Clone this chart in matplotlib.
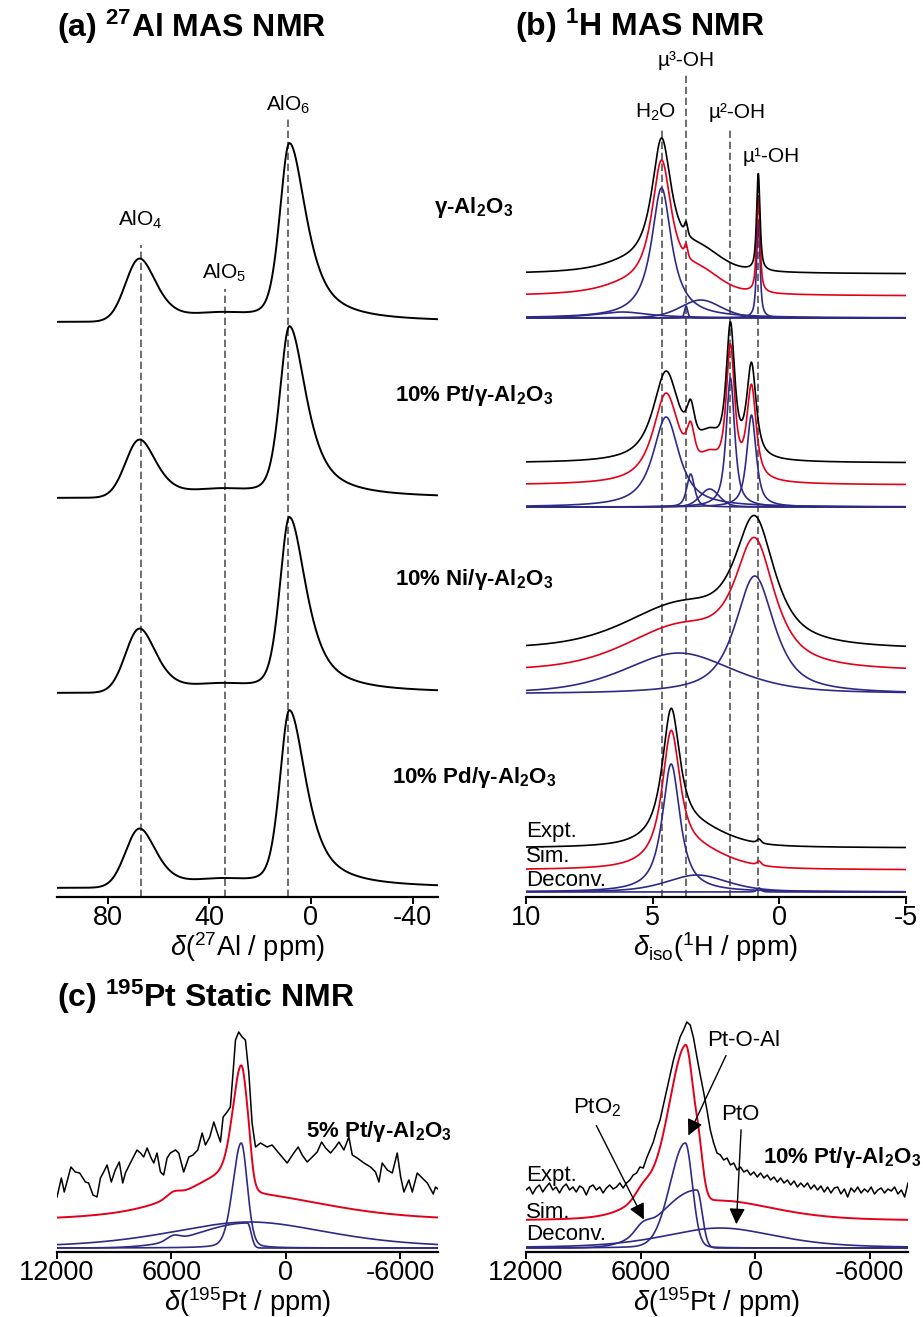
# 27Al / 1H / 195Pt NMR figure
import numpy as np
import matplotlib.pyplot as plt

plt.rcParams['font.family'] = ['Liberation Sans', 'DejaVu Sans']
plt.rcParams['mathtext.fontset'] = 'custom'
plt.rcParams['mathtext.rm'] = 'Liberation Sans'
plt.rcParams['mathtext.it'] = 'Liberation Sans:italic'
plt.rcParams['mathtext.bf'] = 'Liberation Sans:bold'
plt.rcParams['axes.unicode_minus'] = False

# ---------------- data ----------------
# (a) 27Al MAS: peak heights of each sample (arb. units)
al_alo4_height = [63, 58, 64, 59]
al_alo5_height = [6, 6, 6, 6]
al_alo6_height = [178, 171, 175, 177]
# centre, w_high_ppm_side, w_low_ppm_side, eta_high, eta_low
al_alo4_shape = [67.5, 6.5, 8.0, 0.0, 0.6]
al_alo5_shape = [35.0, 12.0, 12.0, 0.0, 0.0]
al_alo6_shape = [8.5, 4.5, 8.0, 0.4, 0.8]
al_sites = ['AlO$_4$', 'AlO$_5$', 'AlO$_6$']
al_site_ppm = [67, 34, 9]

# (b) 1H MAS deconvolution components: centre, height, hwhm, lorentz fraction
h_gam_c = [6.2, 4.65, 3.68, 3.1, 0.83]
h_gam_h = [6, 130, 12, 18, 97]
h_gam_w = [1.3, 0.48, 0.07, 0.95, 0.08]
h_gam_eta = [1.0, 1.0, 0.5, 0.3, 0.7]

h_pt_c = [4.47, 3.5, 2.75, 1.93, 1.1]
h_pt_h = [90, 33, 18, 129, 92]
h_pt_w = [0.62, 0.18, 0.45, 0.2, 0.22]
h_pt_eta = [0.9, 0.6, 0.3, 0.8, 0.8]

h_ni_c = [3.97, 0.97]
h_ni_h = [41, 118]
h_ni_w = [2.55, 0.92]
h_ni_eta = [0.5, 0.8]

h_pd_c = [4.27, 3.25, 0.8]
h_pd_h = [128, 17, 4]
h_pd_w = [0.42, 1.44, 0.1]
h_pd_eta = [0.9, 0.5, 0.5]

h_sites = ['H$_2$O', 'µ³-OH', 'µ²-OH', 'µ¹-OH']
h_site_ppm = [4.65, 3.68, 1.93, 0.83]

# (c) 195Pt static, components: centre, height, w_high, w_low, eta, curve index
pt5_c = [2330, 2000, 5900, 1900]
pt5_h = [105, 25, 5, 26]
pt5_whi = [520, 3000, 400, 5000]
pt5_wlo = [380, 220, 400, 5000]
pt5_eta = [0.2, 0.0, 0.0, 0.5]
pt5_curve = [0, 1, 1, 2]

pt10_c = [3660, 3050, 5900, 1830]
pt10_h = [105, 58, 8, 20]
pt10_whi = [950, 2200, 450, 3500]
pt10_wlo = [440, 320, 450, 3500]
pt10_eta = [0.1, 0.0, 0.0, 0.5]
pt10_curve = [0, 1, 1, 2]

pt5_expt_ppm = [12000, 11770, 11620, 11270, 11040, 10810, 10510, 10340, 10110, 9900,
                9720, 9550, 9370, 9150, 8940, 8730, 8550, 8410, 8150, 7800,
                7620, 7450, 7270, 7060, 6920, 6750, 6570, 6400, 6220, 6050,
                5780, 5610, 5350, 5080, 4860, 4610, 4380, 4210, 3980, 3770,
                3600, 3420, 3280, 3070, 2900, 2760, 2630, 2460, 2280, 2110,
                1930, 1760, 1580, 1320, 970, 710, 360, -80, -430, -660,
                -870, -1130, -1400, -1660, -1890, -2100, -2360, -2620, -2800, -3060,
                -3320, -3500, -3760, -4110, -4460, -4720, -4900, -5070, -5340, -5600,
                -5860, -6040, -6210, -6470, -6650, -6910, -7170, -7440, -7750, -7870,
                -8000]
pt5_expt_int = [0, 19, 5, 30, 25, 24, 15, 14, 2, 0,
                19, 25, 32, 15, 27, 35, 14, 24, 34, 47,
                44, 40, 49, 39, 34, 44, 25, 22, 39, 44,
                47, 44, 25, 40, 42, 47, 64, 52, 60, 75,
                65, 55, 80, 85, 90, 124, 157, 165, 160, 157,
                124, 74, 50, 54, 50, 52, 44, 34, 44, 50,
                42, 35, 40, 45, 55, 49, 44, 50, 55, 47,
                60, 42, 39, 34, 30, 25, 15, 34, 27, 24,
                44, 20, 5, 17, 5, 24, 19, 14, 3, 10,
                8]

pt10_expt_int = [0, 3, -4, 2, 5, -2, 3, 7, 0, 3,
                 -3, 3, 6, 0, 3, -2, 4, 2, -5, 3,
                 5, 0, 3, -3, 2, 5, 1, 3, 7, 2,
                 7, 10, 15, 17, 23, 22, 32, 40, 48, 60,
                 70, 85, 100, 115, 130, 142, 153, 160, 168, 165,
                 152, 133, 115, 98, 80, 60, 47, 37, 35, 30,
                 32, 25, 27, 20, 23, 18, 20, 15, 18, 13,
                 17, 12, 15, 10, 13, 8, 12, 7, 10, 5,
                 9, 3, 7, 3, 7, 1, 5, 0, 4, -2,
                 3, -3, 2, 3, -4, 1, -7, 2, -2, 3,
                 -3, 1, -2, 3, -4, 0, 2, -3, 1, -1,
                 3, -4, 0, -7, 7]

al_ticks = [80, 40, 0, -40]
h_ticks = [10, 5, 0, -5]
pt_ticks = [12000, 6000, 0, -6000]

# ---------------- helpers ----------------
def peak(x, c, h, w_hi, w_lo, eta_hi, eta_lo):
    d = x - c
    w = np.where(d > 0, w_hi, w_lo)
    eta = np.where(d > 0, eta_hi, eta_lo)
    u = (d / w) ** 2
    return h * (eta / (1 + u) + (1 - eta) * np.exp(-np.log(2) * u))


W, H = 923, 1317
fig = plt.figure(figsize=(W / 100, H / 100), dpi=100)


def px_axes(x0, y0, x1, y1):
    return fig.add_axes([x0 / W, 1 - y1 / H, (x1 - x0) / W, (y1 - y0) / H])


def style(ax, ticks):
    for s in ['left', 'right', 'top']:
        ax.spines[s].set_visible(False)
    ax.spines['bottom'].set_linewidth(1.6)
    ax.set_yticks([])
    ax.set_xticks(ticks)
    ax.set_xticklabels([str(t) for t in ticks])
    ax.tick_params(axis='x', direction='out', length=5, width=1.4,
                   labelsize=19.5, pad=1)
    ax.patch.set_alpha(0)


RED = '#e2001a'
BLUE = '#2e2a86'
GREY = '#555555'
dash = dict(color=GREY, lw=1.2, dashes=(4.4, 2.2))
LAB = 19.5

# ---------------- (a) 27Al ----------------
ax_a = px_axes(57, 60, 438, 897)
ax_a.set_xlim(100, -50)
ax_a.set_ylim(0, 837)
style(ax_a, al_ticks)
x_al = np.linspace(100, -50, 1500)
al_offsets = [575, 399, 204, 9]
for i, off in enumerate(al_offsets):
    y = (peak(x_al, al_alo4_shape[0], al_alo4_height[i], *al_alo4_shape[1:])
         + peak(x_al, al_alo5_shape[0], al_alo5_height[i], *al_alo5_shape[1:])
         + peak(x_al, al_alo6_shape[0], al_alo6_height[i], *al_alo6_shape[1:]))
    ax_a.plot(x_al, y + off, color='black', lw=1.4, zorder=3)
al_line_top = [652, 608, 780]
al_label_y = [677, 624, 792]
for ppm, lab, top, ly in zip(al_site_ppm, al_sites, al_line_top, al_label_y):
    ax_a.plot([ppm, ppm], [0, top], zorder=1, **dash)
    ax_a.text(ppm, ly, lab, ha='center', va='center', fontsize=15)
ax_a.set_xlabel(r'$\delta$($^{27}$Al / ppm)', fontsize=LAB, labelpad=-1)

# ---------------- (b) 1H ----------------
ax_b = px_axes(526, 60, 906, 897)
ax_b.set_xlim(10, -5)
ax_b.set_ylim(0, 837)
style(ax_b, h_ticks)
x_h = np.linspace(10, -5, 4000)
h_samples = [(h_gam_c, h_gam_h, h_gam_w, h_gam_eta, 579),
             (h_pt_c, h_pt_h, h_pt_w, h_pt_eta, 390),
             (h_ni_c, h_ni_h, h_ni_w, h_ni_eta, 203),
             (h_pd_c, h_pd_h, h_pd_w, h_pd_eta, 5)]
for cs, hs, ws, etas, off in h_samples:
    comps = [peak(x_h, c, h, w, w, e, e) for c, h, w, e in zip(cs, hs, ws, etas)]
    sim = np.sum(comps, axis=0)
    for comp in comps:
        ax_b.plot(x_h, comp + off, color=BLUE, lw=1.2, zorder=3)
    ax_b.plot(x_h, sim + off + 22, color=RED, lw=1.2, zorder=3)
    ax_b.plot(x_h, sim + off + 44, color='black', lw=1.2, zorder=3)
h_line_top = [770, 825, 770, 725]
h_label_y = [785, 836, 785, 741]
h_label_dx = [0.25, 0.0, -0.25, -0.5]
for ppm, lab, top, ly, dx in zip(h_site_ppm, h_sites, h_line_top, h_label_y, h_label_dx):
    ax_b.plot([ppm, ppm], [0, top], zorder=1, **dash)
    ax_b.text(ppm + dx, ly, lab, ha='center', va='center', fontsize=15)
for lab, ly in zip(['Expt.', 'Sim.', 'Deconv.'], [65, 41, 17]):
    ax_b.text(10, ly, lab, ha='left', va='center', fontsize=16, zorder=5)
ax_b.set_xlabel(r'$\delta_{\rm iso}$($^1$H / ppm)', fontsize=LAB, labelpad=-1)

# sample names between (a) and (b)
for lab, yp in zip([r'γ-Al$_\mathbf{2}$O$_\mathbf{3}$',
                    r'10% Pt/γ-Al$_\mathbf{2}$O$_\mathbf{3}$',
                    r'10% Ni/γ-Al$_\mathbf{2}$O$_\mathbf{3}$',
                    r'10% Pd/γ-Al$_\mathbf{2}$O$_\mathbf{3}$'],
                   [207, 395, 580, 777]):
    fig.text(474 / W, 1 - yp / H, lab, ha='center', va='center',
             fontsize=16, fontweight='bold')

# ---------------- (c) 195Pt ----------------
x_pt = np.linspace(12000, -8000, 2500)


def pt_panel(ax, cs, hs, whis, wlos, etas, curves, expt_x, expt_y, expt_off):
    comps = [peak(x_pt, c, h, a, b, e, e)
             for c, h, a, b, e in zip(cs, hs, whis, wlos, etas)]
    sim = np.sum(comps, axis=0)
    for k in sorted(set(curves)):
        curve = np.sum([comps[j] for j in range(len(comps)) if curves[j] == k], axis=0)
        ax.plot(x_pt, curve + 4, color=BLUE, lw=1.2, zorder=3)
    ax.plot(x_pt, sim + 31, color=RED, lw=1.4, zorder=3)
    ax.plot(expt_x, np.array(expt_y) + expt_off, color='black', lw=1.1, zorder=3)


ax_c1 = px_axes(57, 1020, 438, 1252)
ax_c1.set_xlim(12000, -8000)
ax_c1.set_ylim(0, 232)
style(ax_c1, pt_ticks)
pt_panel(ax_c1, pt5_c, pt5_h, pt5_whi, pt5_wlo, pt5_eta, pt5_curve,
         pt5_expt_ppm, pt5_expt_int, 55)
ax_c1.set_xlabel(r'$\delta$($^{195}$Pt / ppm)', fontsize=LAB, labelpad=-1)

ax_c2 = px_axes(526, 1020, 908, 1252)
ax_c2.set_xlim(12000, -8000)
ax_c2.set_ylim(0, 232)
style(ax_c2, pt_ticks)
pt10_expt_ppm = np.linspace(12000, -8000, len(pt10_expt_int))
pt_panel(ax_c2, pt10_c, pt10_h, pt10_whi, pt10_wlo, pt10_eta, pt10_curve,
         pt10_expt_ppm, pt10_expt_int, 62)
ax_c2.set_xlabel(r'$\delta$($^{195}$Pt / ppm)', fontsize=LAB, labelpad=-1)
for lab, ly in zip(['Expt.', 'Sim.', 'Deconv.'], [77, 40, 17]):
    ax_c2.text(12000, ly, lab, ha='left', va='center', fontsize=16, zorder=5)

arrow = dict(arrowstyle='-|>', color='black', lw=1.0, mutation_scale=24)
ax_c2.annotate('', xy=(5763, 30), xytext=(8384, 129), arrowprops=arrow)
ax_c2.annotate('', xy=(3562, 114), xytext=(1465, 199), arrowprops=arrow)
ax_c2.annotate('', xy=(994, 25), xytext=(732, 125), arrowprops=arrow)
ax_c2.text(627, 212, 'Pt-O-Al', ha='center', va='center', fontsize=16)
ax_c2.text(8279, 144, r'PtO$_2$', ha='center', va='center', fontsize=16)
ax_c2.text(784, 137, 'PtO', ha='center', va='center', fontsize=16)

fig.text(452 / W, 1 - 1132 / H, r'5% Pt/γ-Al$_\mathbf{2}$O$_\mathbf{3}$',
         ha='right', va='center', fontsize=16, fontweight='bold')
fig.text(921 / W, 1 - 1158 / H, r'10% Pt/γ-Al$_\mathbf{2}$O$_\mathbf{3}$',
         ha='right', va='center', fontsize=16, fontweight='bold')

# panel titles
fig.text(57 / W, 1 - 27 / H, r'(a) $^\mathbf{27}$Al MAS NMR', ha='left',
         va='center', fontsize=23, fontweight='bold')
fig.text(515 / W, 1 - 26 / H, r'(b) $^\mathbf{1}$H MAS NMR', ha='left',
         va='center', fontsize=23, fontweight='bold')
fig.text(57 / W, 1 - 997 / H, r'(c) $^\mathbf{195}$Pt Static NMR', ha='left',
         va='center', fontsize=23, fontweight='bold')

fig.savefig('out.png', dpi=100)
